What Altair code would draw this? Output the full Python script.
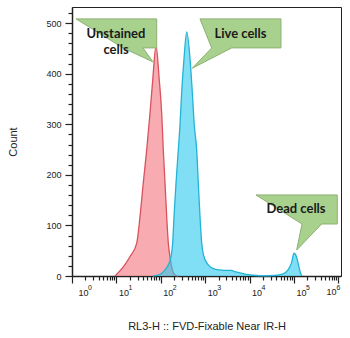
import altair as alt
import pandas as pd

# ---------------- data ----------------
# Unstained sample (red histogram): FVD fluorescence (RL3-H) and event count
unstained_x = [9.3, 14.3, 20.2, 28.7, 34.0, 40.3, 48.1, 57.1, 65.7, 78.0,
               92.5, 104.8, 113.8, 124.4, 135.8, 147.6, 161.2, 176.0, 208.9, 243.9]
unstained_count = [0, 18, 38, 65, 117, 184, 249, 322, 387, 455,
                   387, 322, 249, 184, 117, 65, 38, 18, 2, 0]

# Stained sample (blue histogram): live-cell peak + dead-cell peak
stained_x = [66.7, 95.9, 124.4, 147.6, 169.7, 185.3, 198.3, 219.9, 247.7, 270.5,
             295.6, 333.3, 383.2, 454.7, 512, 568.3, 643.9, 699.8, 764.3, 834.2,
             939.1, 1174, 1578, 2154, 2940, 3811, 4940, 6743, 10210, 19020,
             37330, 56490, 73280, 87900, 100000, 113800, 126200, 140000, 151400]
stained_count = [0, 3, 12, 22, 38, 65, 117, 183, 249, 298,
                 364, 430, 483, 430, 364, 298, 249, 183, 117, 65,
                 38, 22, 14, 12, 11, 11, 8, 5, 2, 0.4,
                 1, 4, 12, 26, 45, 38, 22, 6, 0]

# Callout balloons (outline vertices in data units) and their texts
callout_names = ["Unstained", "Live", "Dead"]
callout_texts = ["Unstained\ncells", "Live cells", "Dead cells"]
callout_poly_x = [
    [1.23, 80.9, 80.9, 39.7, 66.7, 14.1],
    [763, 50900, 50900, 3955, 512, 1400],
    [13930, 944000, 944000, 420600, 115000, 151400],
]
callout_poly_y = [
    [508.5, 508.5, 451.1, 451.1, 423.4, 451.1],
    [508.5, 508.5, 451.1, 451.1, 411.0, 451.1],
    [160.3, 160.3, 102.9, 102.9, 51.4, 102.9],
]
callout_text_x = [9.8, 6237, 110900]
callout_text_y = [478.8, 478.8, 132.6]

# Axis ticks
x_major = [1, 10, 100, 1000, 10000, 100000, 1000000]
x_exponents = ["0", "1", "2", "3", "4", "5", "6"]
x_minor = [m * d for d in [1, 10, 100, 1000, 10000, 100000] for m in range(2, 10)]
y_ticks = list(range(0, 521, 20))

# ---------------- tables ----------------
red_df = pd.DataFrame({"x": unstained_x, "count": unstained_count})
blue_df = pd.DataFrame({"x": stained_x, "count": stained_count})
poly_rows = []
for name, xs_, ys_ in zip(callout_names, callout_poly_x, callout_poly_y):
    for i, (xv, yv) in enumerate(zip(xs_, ys_)):
        poly_rows.append({"name": name, "idx": i, "x": xv, "count": yv})
poly_df = pd.DataFrame(poly_rows)
text_df = pd.DataFrame({"name": callout_names, "text": callout_texts,
                        "x": callout_text_x, "count": callout_text_y})
exp_df = pd.DataFrame({"x": x_major, "exp": x_exponents, "base": ["10"] * len(x_major)})

FONT = "Liberation Sans"
inner_major = "[" + ",".join(str(v) for v in x_major[:-1]) + "]"
all_major = "[" + ",".join(str(v) for v in x_major) + "]"

x_axis = alt.Axis(
    values=sorted(x_major + x_minor),
    labelExpr="indexof(" + inner_major + ", datum.value) >= 0 ? '10' : ''",
    tickSize={"condition": {"test": "indexof(" + all_major + ", datum.value) >= 0", "value": 7},
              "value": 4},
    labelAlign="left",
    labelOffset={"condition": {"test": "datum.value <= 1", "value": 6}, "value": 2},
    labelPadding=5,
    labelBaseline="top",
    titlePadding=23,
)
y_axis = alt.Axis(
    values=y_ticks,
    labelExpr="datum.value % 100 == 0 ? datum.label : ''",
    tickSize={"condition": {"test": "datum.value % 100 == 0", "value": 7}, "value": 4},
    labelPadding=4,
    titlePadding=27,
)

xs = alt.Scale(type="log", domain=[1, 1145000], nice=False)
ys = alt.Scale(domain=[0, 532], nice=False, zero=True)

X_ = alt.X("x:Q", scale=xs, axis=x_axis, title="RL3-H :: FVD-Fixable Near IR-H")
Y_ = alt.Y("count:Q", scale=ys, axis=y_axis, title="Count")

red_area = alt.Chart(red_df).mark_area(
    color="#f4737c", fillOpacity=0.6, interpolate="monotone"
).encode(x=X_, y=Y_)
red_line = alt.Chart(red_df).mark_line(
    color="#d9525e", strokeWidth=1.3, interpolate="monotone"
).encode(x=X_, y=Y_)
blue_area = alt.Chart(blue_df).mark_area(
    color="#2cc9ef", fillOpacity=0.6, interpolate="monotone"
).encode(x=X_, y=Y_)
blue_line = alt.Chart(blue_df).mark_line(
    color="#23b3d6", strokeWidth=1.3, interpolate="monotone"
).encode(x=X_, y=Y_)

balloons = alt.Chart(poly_df).mark_line(
    interpolate="linear-closed", fill="#a9d18e", stroke="#8db172", strokeWidth=1
).encode(x=X_, y=Y_, detail="name:N", order="idx:Q")

texts = alt.Chart(text_df).mark_text(
    font="Lato", fontWeight="bold", fontSize=13, color="#1a1a1a",
    lineBreak="\n", lineHeight=16, align="center", baseline="middle"
).encode(x=X_, y=Y_, text="text:N")

# decade label pieces drawn as text: superscript exponents, and the last "10" kept inside
exp_base = alt.Chart(exp_df)
exp_kw = dict(font=FONT, fontSize=7, color="#222", align="left", baseline="alphabetic")
exp_first = exp_base.transform_filter("datum.x <= 1").mark_text(dx=16, **exp_kw).encode(
    x=X_, y=alt.value(283), text="exp:N")
exp_mid = exp_base.transform_filter("datum.x > 1 && datum.x < 1000000").mark_text(
    dx=12, **exp_kw).encode(x=X_, y=alt.value(283), text="exp:N")
exp_last = exp_base.transform_filter("datum.x >= 1000000").mark_text(
    dx=-2, **exp_kw).encode(x=X_, y=alt.value(283), text="exp:N")
base_last = exp_base.transform_filter("datum.x >= 1000000").mark_text(
    dx=-12, font=FONT, fontSize=9, color="#222", align="left", baseline="top").encode(
    x=X_, y=alt.value(281), text="base:N")

chart = alt.layer(red_area, red_line, blue_area, blue_line, balloons, texts,
                  exp_first, exp_mid, exp_last, base_last).properties(
    width=269, height=269,
    autosize=alt.AutoSizeParams(type="none"),
    padding={"left": 72, "top": 7, "right": 9, "bottom": 62},
).configure_axis(
    grid=False,
    domainColor="#222", domainWidth=1.5,
    tickColor="#222", tickWidth=1.2,
    labelFont=FONT, labelFontSize=9, labelColor="#222",
    titleFont=FONT, titleFontSize=11, titleFontWeight="normal", titleColor="#222",
).configure_view(stroke="#222", strokeWidth=1)

chart.save("out.html", embed_options={"renderer": "svg", "actions": False})
